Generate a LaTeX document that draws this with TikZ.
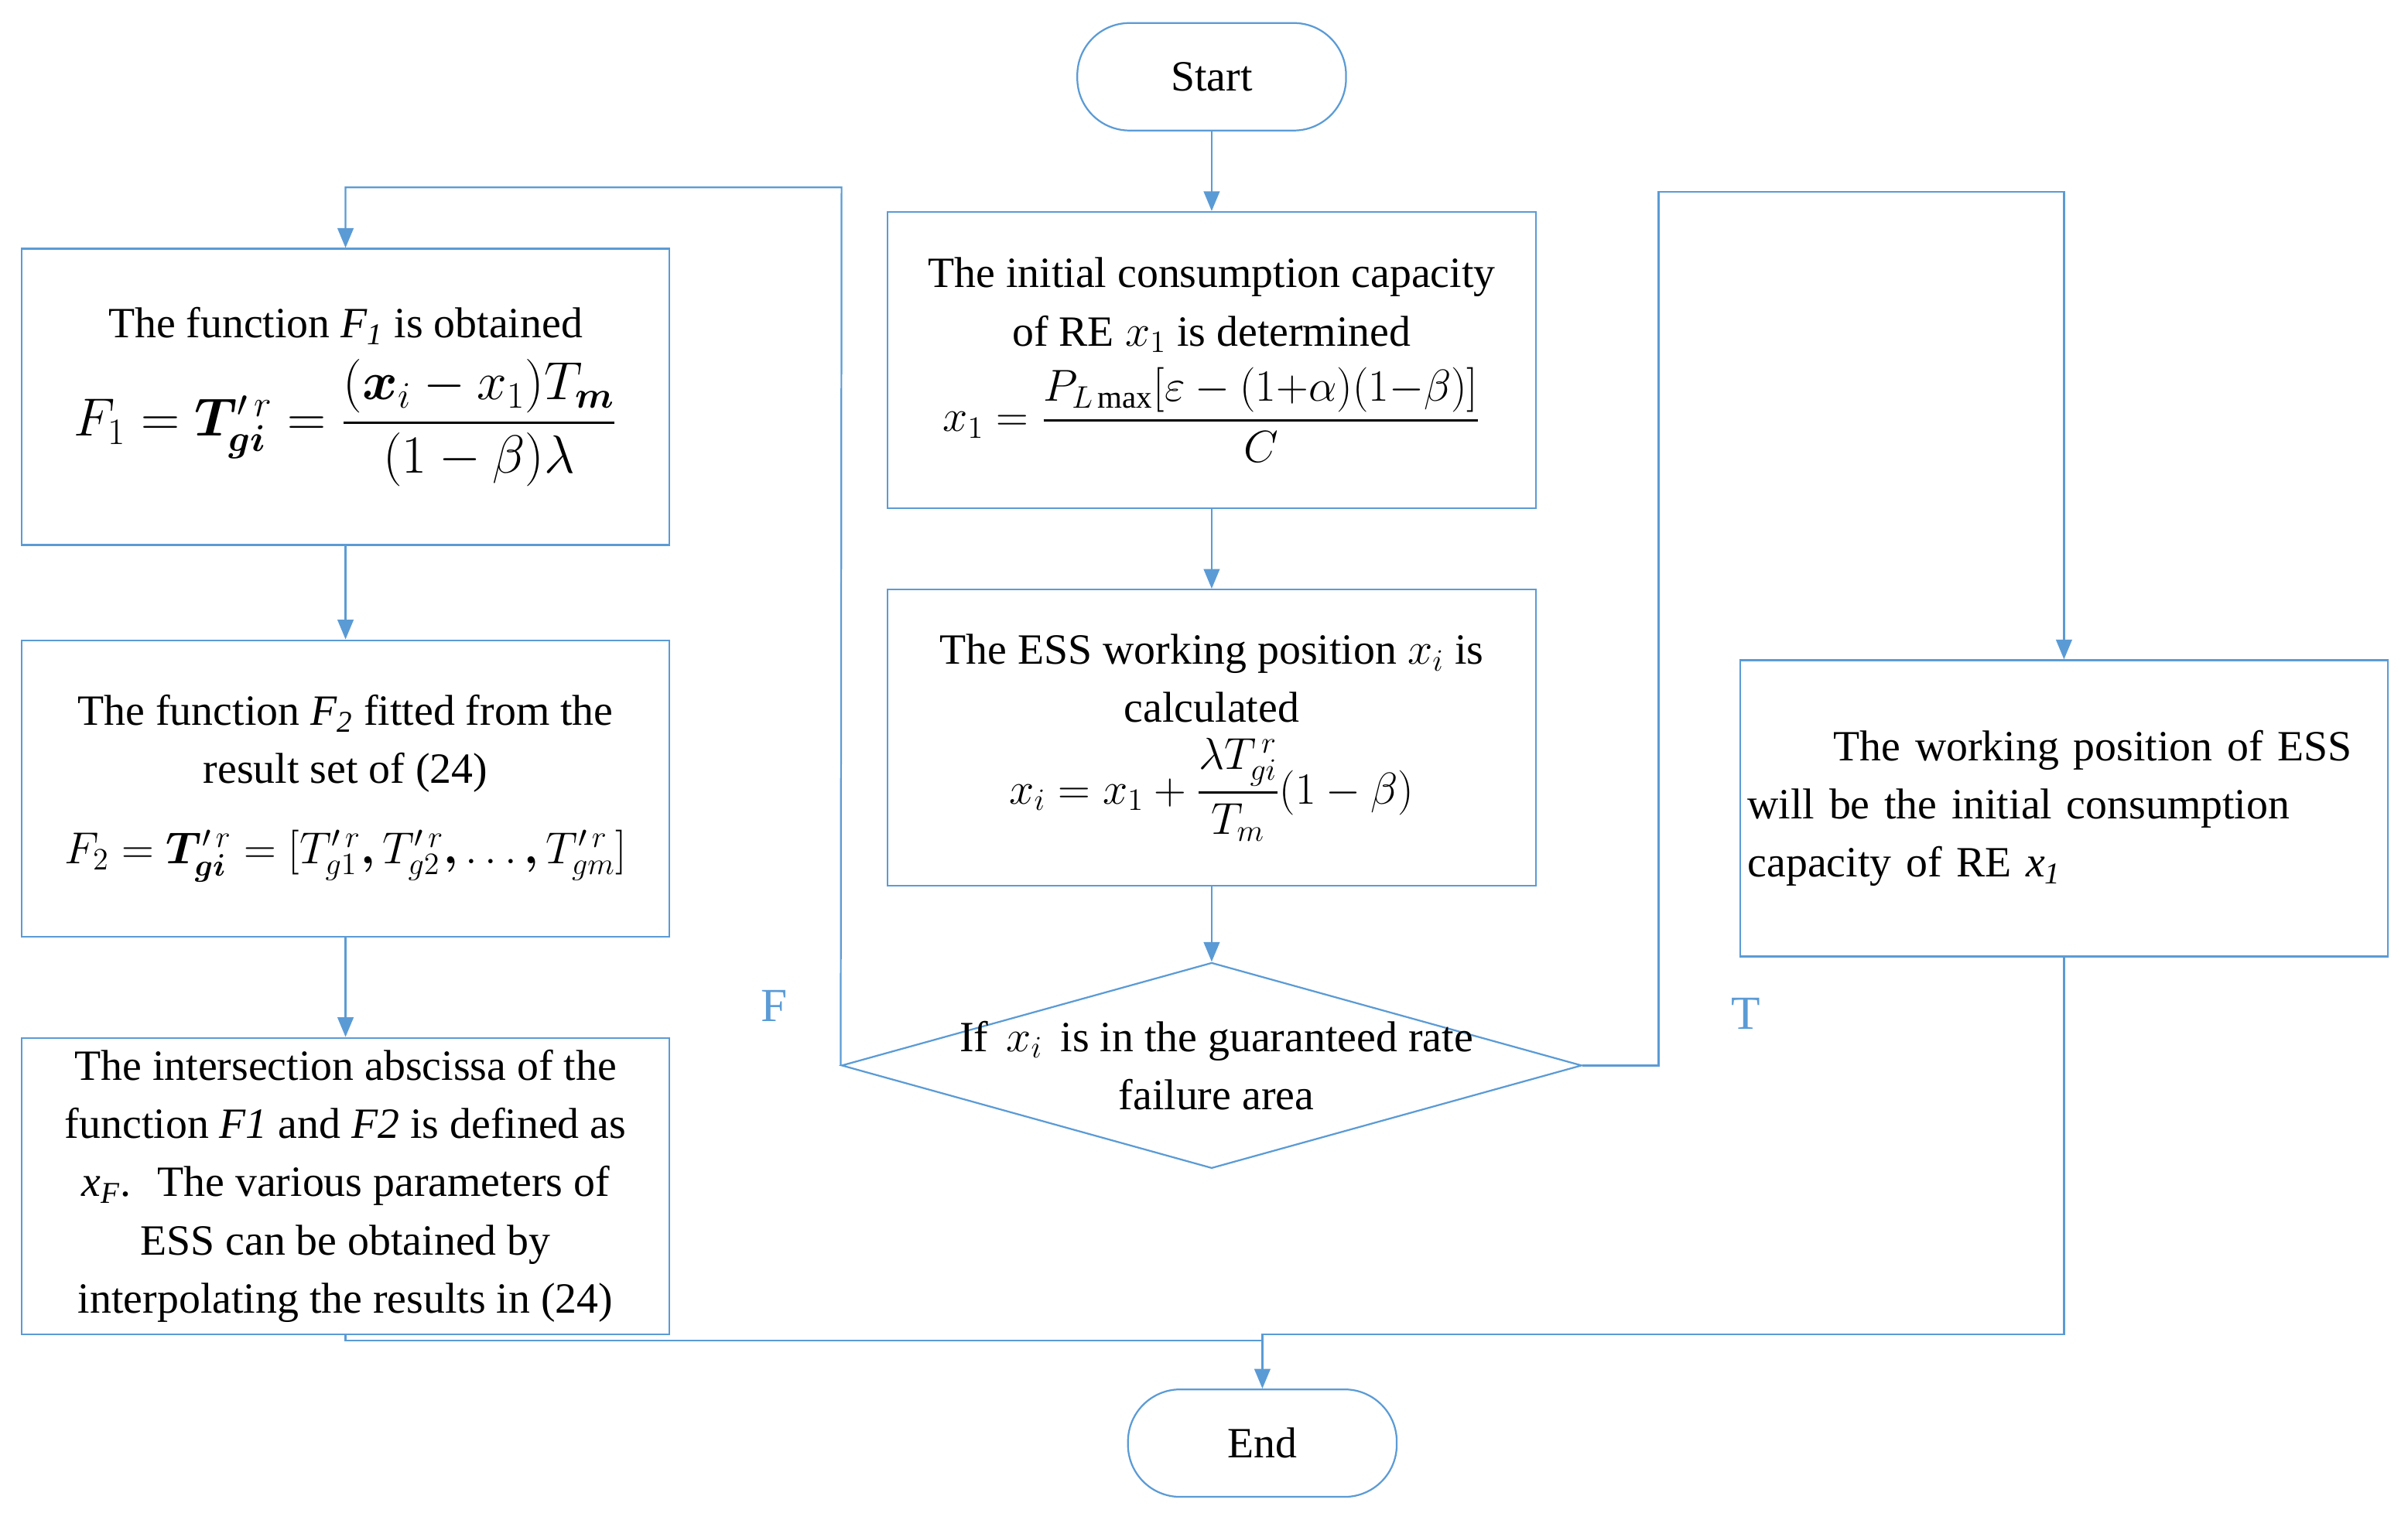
\documentclass[tikz,border=0pt]{standalone}
\usepackage{amsmath,bm}
\usepackage{fontspec}
\setmainfont{Liberation Serif}
\usetikzlibrary{shapes.geometric,arrows.meta}
\definecolor{ln}{RGB}{91,155,213}
\begin{document}
\fontsize{20}{27}\selectfont
\begin{tikzpicture}[x=0.25mm,y=-0.25mm,
  box/.style={draw=ln,line width=0.8pt,minimum width=105.5mm,minimum height=48.25mm,align=center,inner sep=1mm},
  term/.style={draw=ln,line width=0.8pt,rounded corners=8.5mm,minimum width=43.75mm,minimum height=17.5mm},
  con/.style={draw=ln,line width=0.8pt,-{Triangle[length=3.2mm,width=2.6mm]}},
  lab/.style={text=ln,font=\fontsize{22}{26}\selectfont}]
\useasboundingbox (0,0) rectangle (1568,990);
\node[term] (start) at (789,50) {Start};
\node[term] (end) at (822,940) {End};
\node[box] (a) at (789,234.5) {The initial consumption capacity\\ of RE $x_1$ is determined\\[6pt]
 {\fontsize{21}{26}\selectfont$x_1=\dfrac{P_{L\max}[\varepsilon-(1{+}\alpha)(1{-}\beta)]}{C}$}};
\node[box] (b) at (789,480.5) {The ESS working position $x_i$ is\\ calculated\\[6pt]
 {\fontsize{21}{26}\selectfont$x_i=x_1+\dfrac{\lambda T_{gi}^{\,r}}{T_m}(1-\beta)$}};
\node[draw=ln,line width=0.8pt,diamond,minimum width=120.5mm,minimum height=33.5mm,aspect=3.6,inner sep=0pt] (d) at (789,694) {};
\node[align=center] at (792,694) {If\, $x_i$\, is in the guaranteed rate\\ failure area};
\node[box] (f1) at (225,258.5) {The function \textit{F\textsubscript{1}} is obtained\\[6pt]
 {\fontsize{23}{28}\selectfont$F_1=\bm{T_{gi}}'^{\,r}=\dfrac{(\bm{x}_i-x_1)T_{\bm m}}{(1-\beta)\lambda}$}};
\node[box] (f2) at (225,513.5) {The function \textit{F\textsubscript{2}} fitted from the\\ result set of (24)\\[10pt]
 {\fontsize{21}{26}\selectfont$F_2=\bm{T_{gi}}'^{\,r}=[T_{g1}'^{\,r}\bm{,}T_{g2}'^{\,r}\bm{,}\ldots\bm{,}T_{gm}'^{\,r}]$}};
\node[box] (f3) at (225,772.5) {The intersection abscissa of the\\ function \textit{F1} and \textit{F2} is defined as\\ \textit{x\textsubscript{F}}.\; The various parameters of\\ ESS can be obtained by\\ interpolating the results in (24)};
\node[box,align=left,text width=103mm] (r) at (1344,526.5) {\hspace*{14mm}The working position of ESS\\ will be the initial consumption\\ capacity of RE \textit{x\textsubscript{1}}\\[14mm]};
\coordinate (e1) at (822,873);
\draw[con] (start) -- (a);
\draw[con] (a) -- (b);
\draw[con] (b) -- (d.north);
\draw[con] (d.west) -- (548,122) -- (225,122) -- (f1.north);
\draw[con] (d.east) -- (1080,694) -- (1080,125) -- (1344,125) -- (r.north);
\draw[con] (f1) -- (f2);
\draw[con] (f2) -- (f3);
\draw[draw=ln,line width=0.8pt] (f3.south) -- (225,873) -- (e1);
\draw[con] (r.south) -- (1344,869) -- (822,869) -- (end.north);
\node[lab] at (504,655) {F};
\node[lab] at (1137,660) {T};
\end{tikzpicture}
\end{document}
